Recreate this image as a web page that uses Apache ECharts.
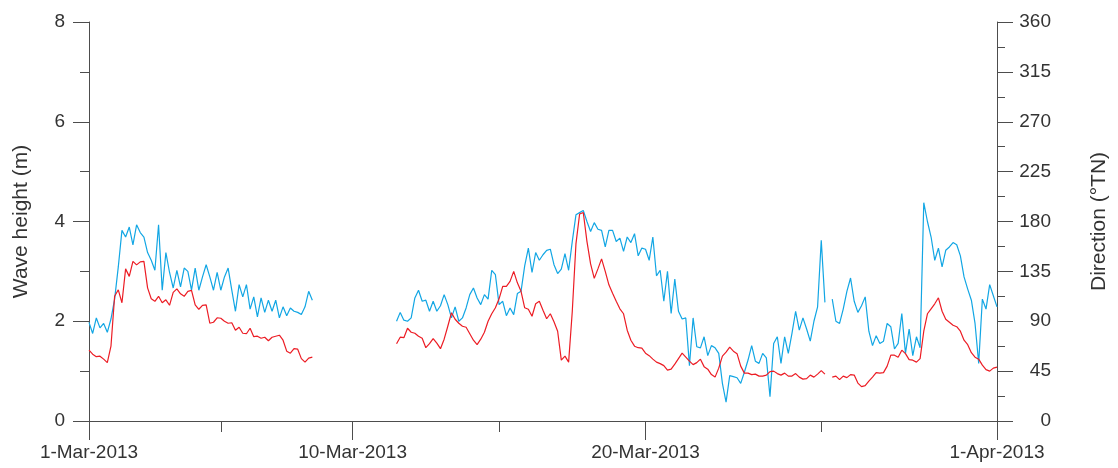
<!DOCTYPE html>
<html>
<head>
<meta charset="utf-8">
<script src="https://cdn.jsdelivr.net/npm/echarts@6/dist/echarts.min.js"></script>
<style>
  html, body { margin: 0; padding: 0; background: #fff; }
  #chart { width: 1118px; height: 468px; }
</style>
</head>
<body>
<div id="chart"></div>
<script>
// Buoy record, March 2013: significant wave height and mean wave direction,
// 3-hourly samples, split into blocks where the record has gaps.
const SAMPLE_HOURS = 3;
const blockStarts = ['2013-03-01T00:00Z', '2013-03-11T12:00Z', '2013-03-26T09:00Z'];

// Wave height (m)
const heightBlock1 = [1.42,1.34,1.29,1.30,1.24,1.17,1.50,2.50,2.63,2.37,
  3.05,2.90,3.20,3.13,3.19,3.20,2.67,2.45,2.40,2.50,
  2.37,2.43,2.32,2.58,2.65,2.55,2.50,2.60,2.62,2.33,
  2.24,2.32,2.33,1.96,1.98,2.07,2.06,2.00,1.96,1.97,
  1.82,1.88,1.76,1.75,1.86,1.69,1.70,1.66,1.68,1.61,
  1.68,1.70,1.72,1.62,1.40,1.36,1.45,1.44,1.25,1.18,
  1.26,1.28];
const heightBlock2 = [1.55,1.68,1.67,1.86,1.78,1.76,1.70,1.66,1.47,1.55,
  1.65,1.56,1.45,1.64,1.90,2.17,2.04,1.96,1.90,1.88,
  1.75,1.62,1.53,1.64,1.78,2.00,2.15,2.27,2.45,2.70,
  2.70,2.80,3.00,2.77,2.60,2.27,2.24,2.10,2.35,2.40,
  2.22,2.05,2.15,1.99,1.80,1.22,1.30,1.18,2.20,3.55,
  4.15,4.18,3.60,3.15,2.86,3.05,3.25,3.00,2.73,2.56,
  2.40,2.25,2.15,1.82,1.62,1.50,1.47,1.46,1.36,1.31,
  1.24,1.18,1.15,1.11,1.02,1.04,1.14,1.25,1.36,1.28,
  1.20,1.13,1.17,1.24,1.09,1.04,0.93,0.88,1.06,1.30,
  1.38,1.48,1.40,1.35,1.10,0.96,0.96,0.93,0.94,0.90,
  0.90,0.92,0.99,1.00,0.95,0.92,0.96,0.90,0.90,0.95,
  0.88,0.84,0.85,0.92,0.88,0.94,1.01,0.94];
const heightBlock3 = [0.88,0.90,0.83,0.90,0.87,0.93,0.92,0.76,0.69,0.71,
  0.80,0.88,0.97,0.96,0.97,1.10,1.32,1.32,1.28,1.42,
  1.35,1.23,1.22,1.18,1.25,1.80,2.15,2.25,2.35,2.47,
  2.20,2.04,1.98,1.92,1.89,1.80,1.62,1.53,1.37,1.28,
  1.24,1.12,1.03,1.00,1.06,1.08];

// Wave direction (degrees true north)
const directionBlock1 = [89,79,93,84,88,80,92,110,139,172,
  166,175,159,177,170,166,152,145,136,177,
  118,152,134,120,136,121,138,135,118,138,
  118,130,141,130,118,134,118,130,138,118,
  99,123,112,123,101,112,94,111,98,109,
  99,109,93,103,95,102,99,98,96,103,
  117,109];
const directionBlock2 = [90,98,91,90,93,111,118,108,109,99,
  108,99,104,114,105,93,103,90,93,102,
  114,120,111,105,114,110,136,132,105,108,
  95,102,96,115,117,140,156,134,152,145,
  150,154,155,141,133,137,151,136,162,186,
  188,190,180,171,179,173,172,157,172,172,
  162,165,153,166,161,169,149,156,155,145,
  166,131,136,108,135,97,128,99,92,93,
  50,93,67,66,76,59,68,66,61,34,
  17,41,40,39,34,44,55,68,54,52,
  61,57,22,70,76,52,76,61,79,99,
  82,93,83,72,90,103,163,107];
const directionBlock3 = [110,90,88,101,117,129,108,98,104,112,
  81,68,77,70,72,88,85,65,70,97,
  61,83,59,76,66,197,180,166,145,156,
  139,154,157,161,159,149,130,119,109,88,
  52,110,101,123,113,103];

// Axes
const axisStart = '2013-03-01T00:00Z';
const axisEnd = '2013-04-01T00:00Z';
const dateTicks = ['2013-03-01T00:00Z', '2013-03-10T00:00Z', '2013-03-20T00:00Z', '2013-04-01T00:00Z'];
const heightRange = [0, 8, 2];
const directionRange = [0, 360, 45];
const monthNames = ['Jan','Feb','Mar','Apr','May','Jun','Jul','Aug','Sep','Oct','Nov','Dec'];

const DAY = 86400000;
const t0 = Date.parse(axisStart);
const toDay = s => (Date.parse(s) - t0) / DAY;

function joinBlocks(blocks) {
  const pts = [];
  blocks.forEach((vals, b) => {
    const d0 = toDay(blockStarts[b]);
    if (b > 0) pts.push([d0 - SAMPLE_HOURS / 48, '-']);
    vals.forEach((v, k) => pts.push([d0 + k * SAMPLE_HOURS / 24, v]));
  });
  return pts;
}

const majorDays = dateTicks.map(toDay);
const minorDays = majorDays.slice(1).map((d, i) => (d + majorDays[i]) / 2);

const FONT = 'Liberation Sans';
const TXT = '#333';
const AX = '#4d4d4d';

function fmtDate(v) {
  const d = new Date(t0 + Math.round(v * 24) * 3600000);
  return d.getUTCDate() + '-' + monthNames[d.getUTCMonth()] + '-' + d.getUTCFullYear();
}

function yAxisStyle(extra) {
  return Object.assign({
    type: 'value',
    splitLine: { show: false },
    axisLine: { show: true, onZero: false, lineStyle: { color: AX, width: 1 } },
    axisTick: { show: true, inside: false, length: 16, lineStyle: { color: AX, width: 1 } },
    minorTick: { show: true, splitNumber: 2, length: 9, lineStyle: { color: AX, width: 1 } },
    minorSplitLine: { show: false },
    nameLocation: 'middle',
    nameRotate: 90,
    nameTextStyle: { fontFamily: FONT, fontSize: 21, color: TXT }
  }, extra);
}

const chart = echarts.init(document.getElementById('chart'), null, { renderer: 'canvas' });
chart.setOption({
  animation: false,
  backgroundColor: '#fff',
  grid: { left: 89, right: 119, top: 22, bottom: 47, containLabel: false },
  xAxis: [
    {
      type: 'value', min: 0, max: toDay(axisEnd), position: 'bottom',
      splitLine: { show: false },
      axisLine: { show: true, onZero: false, lineStyle: { color: AX, width: 1 } },
      axisTick: { show: true, inside: false, length: 19, customValues: majorDays, lineStyle: { color: AX, width: 1 } },
      axisLabel: { customValues: majorDays, formatter: fmtDate, margin: 22, fontFamily: FONT, fontSize: 19, color: TXT }
    },
    {
      type: 'value', min: 0, max: toDay(axisEnd), position: 'bottom',
      splitLine: { show: false },
      axisLine: { show: false, onZero: false },
      axisTick: { show: true, inside: false, length: 11, customValues: minorDays, lineStyle: { color: AX, width: 1 } },
      axisLabel: { show: false }
    }
  ],
  yAxis: [
    yAxisStyle({
      position: 'left', min: heightRange[0], max: heightRange[1], interval: heightRange[2],
      name: 'Wave height (m)', nameGap: 57,
      axisLabel: { margin: 24, fontFamily: FONT, fontSize: 19, color: TXT }
    }),
    yAxisStyle({
      position: 'right', min: directionRange[0], max: directionRange[1], interval: directionRange[2],
      name: 'Direction (°TN)', nameGap: 92,
      minorTick: { show: true, splitNumber: 2, length: 8, lineStyle: { color: AX, width: 1 } },
      axisLabel: { margin: 54, align: 'right', fontFamily: FONT, fontSize: 19, color: TXT }
    })
  ],
  series: [
    {
      name: 'Direction', type: 'line', xAxisIndex: 0, yAxisIndex: 1,
      data: joinBlocks([directionBlock1, directionBlock2, directionBlock3]),
      showSymbol: false, symbol: 'none', connectNulls: false,
      lineStyle: { color: '#12a6e4', width: 1.2 }, z: 2
    },
    {
      name: 'Wave height', type: 'line', xAxisIndex: 0, yAxisIndex: 0,
      data: joinBlocks([heightBlock1, heightBlock2, heightBlock3]),
      showSymbol: false, symbol: 'none', connectNulls: false,
      lineStyle: { color: '#ec1c24', width: 1.2 }, z: 3
    }
  ]
});
</script>
</body>
</html>
